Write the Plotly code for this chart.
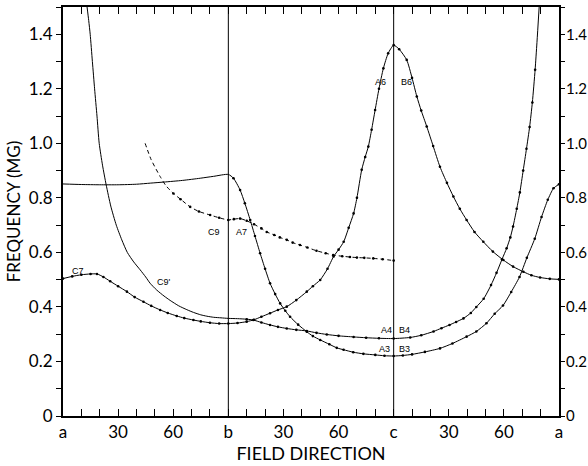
import plotly.graph_objects as go

# ---------------- data ----------------
tick_deg = [0, 30, 60, 90, 120, 150, 180, 210, 240, 270]
tick_text = ["a", "30", "60", "b", "30", "60", "c", "30", "60", "a"]
y_tick_vals = [0, 0.2, 0.4, 0.6, 0.8, 1.0, 1.2, 1.4]
y_tick_text = ["0", "0.2", "0.4", "0.6", "0.8", "1.0", "1.2", "1.4"]

# C7 -> A6/B6 branch
p_deg = [0, 5, 10, 15, 18.5, 22, 25.7, 30, 34.8, 39, 43.8, 48, 52.9, 57, 61.9, 66, 71, 75, 80, 85, 90,
         95, 100, 104, 108, 112.7, 117, 121.8, 127, 132.7, 136, 140, 144, 147.3, 150, 152.8, 155.5,
         158.2, 160, 162.6, 164.5, 166.2, 168, 169.9, 172, 174.4, 177, 180, 183, 187.1, 190, 192.6,
         195, 198, 201.5, 205.2, 209, 212.5, 216, 219.7, 224, 228.8, 234, 239.7, 245, 250.6, 255,
         259.7, 265, 270]
p_val = [0.504, 0.512, 0.518, 0.521, 0.521, 0.51, 0.494, 0.476, 0.456, 0.436, 0.419, 0.404, 0.389,
         0.378, 0.367, 0.359, 0.352, 0.347, 0.342, 0.339, 0.339, 0.341, 0.346, 0.353, 0.364, 0.377,
         0.389, 0.401, 0.425, 0.456, 0.476, 0.499, 0.54, 0.585, 0.61, 0.639, 0.69, 0.743, 0.8, 0.903,
         0.95, 0.988, 1.05, 1.122, 1.2, 1.275, 1.33, 1.36, 1.345, 1.306, 1.24, 1.172, 1.12, 1.062,
         0.99, 0.914, 0.855, 0.805, 0.76, 0.719, 0.675, 0.639, 0.603, 0.572, 0.548, 0.529, 0.516,
         0.508, 0.503, 0.501]

# flat branch -> A3/B3
q_deg = [0, 10, 20, 30, 40, 47.5, 55, 65, 74.7, 82, 90, 92.8, 96.4, 99, 101.9, 104.5, 107.3, 110,
         112.7, 115.5, 118.2, 121, 123.6, 128, 132.7, 136, 140, 145, 149, 152.7, 158, 163.5, 170,
         175, 180, 185, 190, 197, 205.2, 212, 219.7, 225, 230.5, 235, 239.5, 244, 248.5, 252.5,
         256.8, 260.5, 263.9, 267, 270]
q_val = [0.851, 0.849, 0.848, 0.848, 0.85, 0.854, 0.858, 0.864, 0.872, 0.879, 0.886, 0.872, 0.829,
         0.78, 0.719, 0.66, 0.597, 0.54, 0.487, 0.447, 0.413, 0.386, 0.364, 0.335, 0.309, 0.293,
         0.279, 0.263, 0.25, 0.243, 0.234, 0.228, 0.224, 0.221, 0.22, 0.222, 0.226, 0.235, 0.248,
         0.266, 0.291, 0.31, 0.34, 0.375, 0.405, 0.455, 0.51, 0.58, 0.65, 0.73, 0.793, 0.835, 0.85]

# C9' -> A4/B4 branch
r_deg = [13.1, 14, 14.8, 16, 17.2, 18.5, 19.7, 21.5, 23.5, 26, 29, 32, 35, 38.5, 42, 45, 47.4, 51,
         55, 58.3, 63, 67.4, 71, 75, 78.3, 82, 86, 90, 95, 100, 103.6, 108, 112.7, 117, 121.8, 127,
         132.7, 138, 143.6, 150, 158.2, 165, 172, 180, 189, 195, 201.7, 206, 210.4, 214, 218, 222,
         225, 229, 233, 236, 239, 241.5, 243.5, 245, 247, 248.7, 250.5, 252.3, 254, 255.5, 257,
         258, 259.2]
r_val = [1.5, 1.45, 1.4, 1.3, 1.2, 1.1, 1.0, 0.92, 0.848, 0.77, 0.7, 0.646, 0.6, 0.565, 0.536, 0.51,
         0.487, 0.462, 0.44, 0.424, 0.404, 0.39, 0.38, 0.371, 0.366, 0.362, 0.36, 0.358, 0.357,
         0.355, 0.352, 0.343, 0.334, 0.327, 0.321, 0.316, 0.312, 0.305, 0.299, 0.294, 0.29, 0.287,
         0.285, 0.284, 0.288, 0.296, 0.31, 0.322, 0.334, 0.345, 0.358, 0.378, 0.4, 0.43, 0.48,
         0.525, 0.575, 0.615, 0.655, 0.695, 0.76, 0.82, 0.9, 0.98, 1.06, 1.15, 1.27, 1.37, 1.5]

# C9 / A7 dashed branch
s_deg = [44.7, 48, 52.9, 56, 60.1, 64, 69.2, 74, 80.1, 85, 90, 93, 96.4, 100, 104, 108, 110.9, 115,
         118, 121.8, 125, 129, 133, 138, 143, 147.1, 152, 156.2, 160, 164, 168.9, 174, 180]
s_val = [1.0, 0.94, 0.878, 0.845, 0.816, 0.795, 0.767, 0.75, 0.737, 0.727, 0.719, 0.722, 0.724,
         0.716, 0.703, 0.688, 0.675, 0.664, 0.655, 0.646, 0.636, 0.627, 0.618, 0.606, 0.597, 0.59,
         0.586, 0.583, 0.581, 0.58, 0.578, 0.575, 0.57]

labels = ["C7", "C9'", "C9", "A7", "A6", "B6", "A4", "B4", "A3", "B3"]
label_x = [8, 55, 82, 97, 173, 187, 176, 186, 175, 186]
label_y = [0.53, 0.49, 0.675, 0.675, 1.225, 1.225, 0.315, 0.315, 0.245, 0.245]

Y_MAX = 1.5
X_MAX = 270

# ---------------- figure ----------------
fig = go.Figure()
line_style = dict(color="black", width=1, shape="spline", smoothing=0.6)
mk = dict(color="black", size=2.6)

def sel(xs, ys, lo, hi):
    xx, yy = [], []
    for a, b in zip(xs, ys):
        if lo <= a <= hi:
            xx.append(a); yy.append(b)
    return xx, yy

fig.add_trace(go.Scatter(x=p_deg, y=p_val, mode="lines+markers", line=line_style, marker=mk))
fig.add_trace(go.Scatter(x=q_deg, y=q_val, mode="lines", line=line_style))
qx, qy = sel(q_deg, q_val, 92, 270)
fig.add_trace(go.Scatter(x=qx, y=qy, mode="markers", marker=mk))
fig.add_trace(go.Scatter(x=r_deg, y=r_val, mode="lines", line=line_style))
rx, ry = sel(r_deg, r_val, 100, 257)
fig.add_trace(go.Scatter(x=rx, y=ry, mode="markers", marker=mk))
fig.add_trace(go.Scatter(x=s_deg, y=s_val, mode="lines",
                         line=dict(color="black", width=1, dash="4px,3px", shape="spline", smoothing=0.6)))
sx, sy = sel(s_deg, s_val, 60, 180)
fig.add_trace(go.Scatter(x=sx, y=sy, mode="markers", marker=mk))
# invisible trace to activate the right-hand axis
fig.add_trace(go.Scatter(x=[tick_deg[0]], y=[y_tick_vals[0]], yaxis="y2", mode="markers",
                         marker=dict(opacity=0), hoverinfo="skip"))

for xv in (tick_deg[3], tick_deg[6]):
    fig.add_shape(type="line", xref="x", yref="paper", x0=xv, x1=xv, y0=0, y1=1,
                  line=dict(color="black", width=1))

for t, x, y in zip(labels, label_x, label_y):
    fig.add_annotation(x=x, y=y, text=t, showarrow=False,
                       font=dict(size=9, color="black", family="Liberation Sans"))

tick_font = dict(family="Lato", size=17, color="black")
right_font = dict(family="Lato", size=15, color="black")
fig.update_layout(
    width=588, height=466,
    margin=dict(l=63, r=29, t=7, b=50, autoexpand=False),
    paper_bgcolor="white", plot_bgcolor="white",
    showlegend=False,
    font=dict(family="Lato", color="black"),
    xaxis=dict(range=[0, X_MAX], tickvals=tick_deg, ticktext=tick_text, tickfont=tick_font,
               showline=True, linewidth=2, linecolor="black", mirror="ticks",
               ticks="inside", ticklen=7, tickwidth=1, tickcolor="black",
               minor=dict(dtick=10, ticks="inside", ticklen=7, tickcolor="black"),
               showgrid=False, zeroline=False, automargin=False,
               title=dict(text="FIELD DIRECTION", font=dict(family="Lato", size=18), standoff=6)),
    yaxis=dict(range=[0, Y_MAX], tickvals=y_tick_vals, ticktext=y_tick_text, tickfont=tick_font,
               showline=True, linewidth=2, linecolor="black",
               ticks="outside", ticklen=5, tickcolor="black",
               minor=dict(dtick=0.1, ticks="outside", ticklen=5, tickcolor="black"),
               showgrid=False, zeroline=False, automargin=False,
               title=dict(text="FREQUENCY (MG)", font=dict(family="Lato", size=17), standoff=4)),
    yaxis2=dict(range=[0, Y_MAX], tickvals=y_tick_vals, ticktext=y_tick_text, tickfont=right_font,
                overlaying="y", side="right",
                showline=True, linewidth=2, linecolor="black",
                ticks="outside", ticklen=4, tickcolor="black", ticklabelstandoff=-2,
                minor=dict(dtick=0.1, ticks="outside", ticklen=4, tickcolor="black"),
                showgrid=False, zeroline=False, automargin=False),
)

fig.write_html("out.html")
